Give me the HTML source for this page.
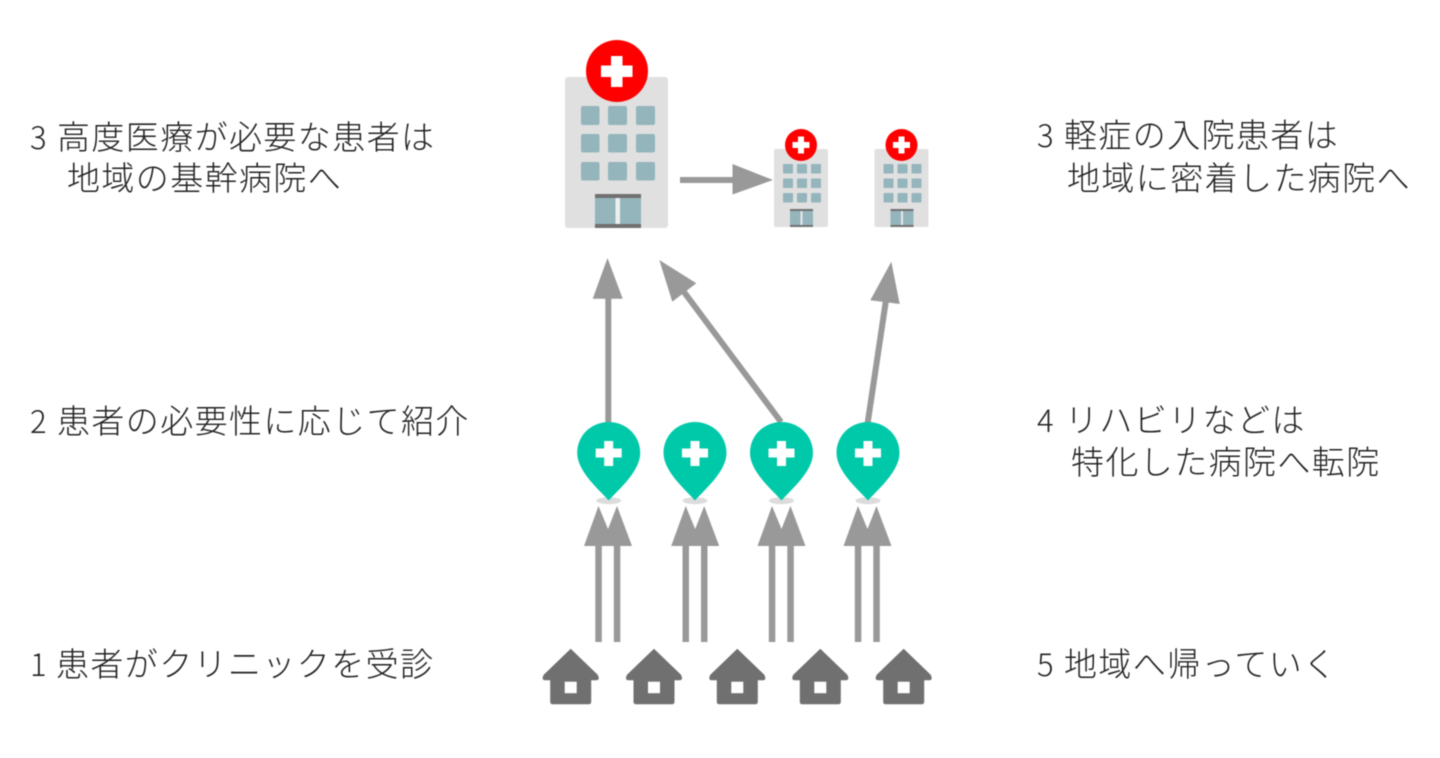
<!DOCTYPE html>
<html lang="ja">
<head>
<meta charset="utf-8">
<title>地域医療の流れ</title>
<style>
html,body{margin:0;padding:0;background:#fff;width:1440px;height:758px;overflow:hidden}
svg{display:block;filter:blur(0.6px)}
text{font-family:"Liberation Sans","Noto Sans CJK JP",sans-serif;font-size:33px;font-weight:300;letter-spacing:1.4px;fill:#222}
text.n{font-family:"Noto Sans CJK JP",sans-serif;font-size:31px;letter-spacing:0}
</style>
</head>
<body>
<svg width="1440" height="758" viewBox="0 0 1440 758" xmlns="http://www.w3.org/2000/svg">
<defs>
  <g id="pin">
    <path d="M0 78.5 C-8 69 -31.5 50 -31.5 31 C-31.5 13 -17 0 0 0 C17 0 31.5 13 31.5 31 C31.5 50 8 69 0 78.5 Z" fill="#00c9a9"/>
    <path d="M-4.5 19 H4.5 V26.5 H13 V35.5 H4.5 V44 H-4.5 V35.5 H-13 V26.5 H-4.5 Z" fill="#fff"/>
  </g>
  <g id="house">
    <path d="M0 0 L27 26 Q29.5 31 26 31.5 H20.5 V53 Q20.5 55.5 18 55.5 H-18 Q-20.5 55.5 -20.5 53 V31.5 H-26 Q-29.5 31 -27 26 Z" fill="#707070"/>
    <rect x="-6" y="33" width="12" height="11.5" fill="#fff"/>
  </g>
  <g id="up2" fill="#999">
    <rect x="-3.2" y="40" width="6.5" height="96"/>
    <rect x="15.3" y="40" width="6.5" height="96"/>
    <path d="M0 0 L9.5 23 L18.5 0 L33.5 40 H-14.5 Z"/>
  </g>
  <g id="small">
    <rect x="0" y="0" width="54" height="78" rx="2" fill="#e0e0e0"/>
    <g fill="#93b5bb">
      <rect x="9" y="15" width="10" height="9.5" rx="1"/><rect x="23" y="15" width="10" height="9.5" rx="1"/><rect x="37" y="15" width="10" height="9.5" rx="1"/>
      <rect x="9" y="29.5" width="10" height="9.5" rx="1"/><rect x="23" y="29.5" width="10" height="9.5" rx="1"/><rect x="37" y="29.5" width="10" height="9.5" rx="1"/>
      <rect x="9" y="44" width="10" height="9.5" rx="1"/><rect x="23" y="44" width="10" height="9.5" rx="1"/><rect x="37" y="44" width="10" height="9.5" rx="1"/>
      <rect x="16" y="60" width="23" height="18"/>
    </g>
    <rect x="16" y="60" width="23" height="2" fill="#707070"/>
    <rect x="16" y="76" width="23" height="2" fill="#707070"/>
    <rect x="26.5" y="62" width="2" height="14" fill="#e8e8e8"/>
    <circle cx="27" cy="-4" r="16" fill="#f00"/>
    <path d="M24 -12.5 H30 V-7 H35.5 V-1 H30 V4.5 H24 V-1 H18.5 V-7 H24 Z" fill="#fff"/>
  </g>
</defs>

<!-- Large hospital -->
<rect x="565" y="77" width="103" height="151" rx="3" fill="#e0e0e0"/>
<g fill="#93b5bb">
  <rect x="581" y="106" width="18.5" height="19" rx="2"/><rect x="608" y="106" width="19" height="19" rx="2"/><rect x="636" y="106" width="19" height="19" rx="2"/>
  <rect x="581" y="134" width="18.5" height="18.5" rx="2"/><rect x="608" y="134" width="19" height="18.5" rx="2"/><rect x="636" y="134" width="19" height="18.5" rx="2"/>
  <rect x="581" y="162" width="18.5" height="18.5" rx="2"/><rect x="608" y="162" width="19" height="18.5" rx="2"/><rect x="636" y="162" width="19" height="18.5" rx="2"/>
  <rect x="595" y="194" width="46" height="34"/>
</g>
<rect x="595" y="194" width="46" height="4" fill="#707070"/>
<rect x="595" y="224" width="46" height="4" fill="#707070"/>
<rect x="615.5" y="198" width="4.5" height="26" fill="#eee"/>
<circle cx="617" cy="71" r="31" fill="#f00"/>
<path d="M611 56 H622.5 V65.5 H632.5 V77 H622.5 V87 H611 V77 H601 V65.5 H611 Z" fill="#fff"/>

<!-- Small hospitals -->
<use href="#small" x="774" y="149"/>
<use href="#small" x="874.5" y="149"/>

<!-- Horizontal arrow -->
<g fill="#999">
  <rect x="680" y="177" width="54" height="6"/>
  <path d="M732.5 164 L773 180 L732.5 194.5 Z"/>
</g>

<!-- Upward connectors -->
<g stroke="#999" stroke-width="6" fill="none">
  <line x1="608.3" y1="424" x2="608.3" y2="296"/>
  <line x1="781" y1="422" x2="684" y2="292"/>
  <line x1="867.5" y1="424" x2="886" y2="300"/>
</g>
<g fill="#999">
  <path d="M607.5 258 L622.7 298.7 H592.7 Z"/>
  <path d="M659.3 260 L696.3 283.3 L672.3 301.7 Z"/>
  <path d="M891.3 261.7 L899.7 304 L870.3 300.3 Z"/>
</g>

<!-- Pin shadows -->
<g fill="#dcdcdc">
  <ellipse cx="608.7" cy="500.7" rx="12.5" ry="3.5"/>
  <ellipse cx="695" cy="500.7" rx="12.5" ry="3.5"/>
  <ellipse cx="781.5" cy="500.7" rx="12.5" ry="3.5"/>
  <ellipse cx="868" cy="500.7" rx="12.5" ry="3.5"/>
</g>

<!-- Pins -->
<use href="#pin" x="608.7" y="422"/>
<use href="#pin" x="695" y="422"/>
<use href="#pin" x="781.5" y="422"/>
<use href="#pin" x="868" y="422"/>

<!-- Double arrows -->
<use href="#up2" x="598.5" y="506"/>
<use href="#up2" x="685.7" y="506"/>
<use href="#up2" x="772" y="506"/>
<use href="#up2" x="858" y="506"/>

<!-- Houses -->
<use href="#house" x="570.7" y="648.7"/>
<use href="#house" x="654" y="648.7"/>
<use href="#house" x="737.3" y="648.7"/>
<use href="#house" x="820.3" y="648.7"/>
<use href="#house" x="903.7" y="648.7"/>

<!-- Left labels -->
<text class="n" x="30" y="149">3</text><text x="57" y="149">高度医療が必要な患者は</text>
<text x="67" y="190">地域の基幹病院へ</text>
<text class="n" x="30" y="433">2</text><text x="57" y="433">患者の必要性に応じて紹介</text>
<text class="n" x="30" y="676">1</text><text x="56" y="676">患者がクリニックを受診</text>

<!-- Right labels -->
<text class="n" x="1037" y="147">3</text><text x="1064" y="147">軽症の入院患者は</text>
<text x="1067" y="190">地域に密着した病院へ</text>
<text class="n" x="1037" y="432">4</text><text x="1065" y="432">リハビリなどは</text>
<text x="1071" y="474">特化した病院へ転院</text>
<text class="n" x="1037" y="676">5</text><text x="1064" y="676">地域へ帰っていく</text>
</svg>
</body>
</html>
